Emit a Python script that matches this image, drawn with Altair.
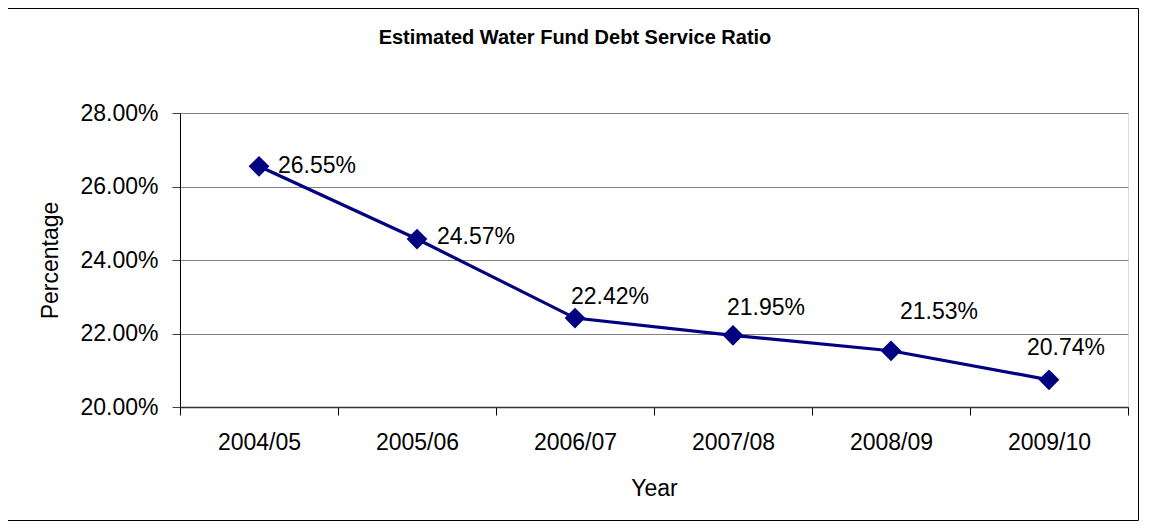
import altair as alt
import pandas as pd

years = ["2004/05", "2005/06", "2006/07", "2007/08", "2008/09", "2009/10"]
ratios = [0.2655, 0.2457, 0.2242, 0.2195, 0.2153, 0.2074]
title_text = "Estimated Water Fund Debt Service Ratio"

df = pd.DataFrame({"Year": years, "Ratio": ratios})

FONT = "Liberation Sans"
NAVY = "#000080"
W, H = 948, 294

x_enc = alt.X(
    "Year:N",
    sort=years,
    scale=alt.Scale(type="band", paddingInner=0, paddingOuter=0),
    axis=alt.Axis(
        title="Year",
        labelAngle=0,
        tickBand="extent",
        tickSize=8,
        tickColor="#000000",
        domainColor="#333333",
        domainWidth=1.5,
        labelPadding=16,
        labelFontSize=23,
        labelColor="#000000",
        titleFontSize=23,
        titleFontWeight="normal",
        titleColor="#000000",
        titleX=474,
        titleY=81,
        titleAlign="center",
        titleBaseline="middle",
        grid=False,
    ),
)
y_enc = alt.Y(
    "Ratio:Q",
    scale=alt.Scale(domain=[0.20, 0.28], nice=False, zero=False),
    axis=alt.Axis(
        title="Percentage",
        format=".2%",
        values=[0.20, 0.22, 0.24, 0.26, 0.28],
        tickSize=8,
        tickColor="#404040",
        domainColor="#000000",
        domainWidth=1,
        labelPadding=14,
        labelFontSize=23,
        labelColor="#000000",
        titleFontSize=23,
        titleFontWeight="normal",
        titleColor="#000000",
        titleX=-130,
        titleY=147,
        titleAngle=270,
        titleAlign="center",
        titleBaseline="middle",
        grid=True,
        gridColor="#808080",
        gridWidth=1,
    ),
)

base = alt.Chart(df)

line = base.mark_line(color=NAVY, strokeWidth=3.2).encode(x=x_enc, y=y_enc)
pts = base.mark_point(shape="diamond", filled=True, color=NAVY, size=430, opacity=1).encode(
    x=alt.X("Year:N", sort=years), y="Ratio:Q"
)


def label_layer(year, dx, dy):
    return (
        base.transform_filter(alt.datum.Year == year)
        .mark_text(align="left", baseline="middle", dx=dx, dy=dy, fontSize=23, font=FONT, color="#000000")
        .encode(x=alt.X("Year:N", sort=years), y="Ratio:Q", text=alt.Text("Ratio:Q", format=".2%"))
    )


labels = [
    label_layer("2004/05", 19, 0),
    label_layer("2005/06", 20, -2),
    label_layer("2006/07", -4, -21),
    label_layer("2007/08", -6, -27),
    label_layer("2008/09", 9, -39),
    label_layer("2009/10", -22, -32),
]

title = alt.Chart(pd.DataFrame({"t": [title_text]})).mark_text(
    fontSize=20, fontWeight="bold", font=FONT, color="#000000", align="center", baseline="middle"
).encode(text="t:N", x=alt.value(395), y=alt.value(-75))

border = alt.Chart(pd.DataFrame({"a": [0]})).mark_rect(
    fill=None, stroke="#000000", strokeWidth=1
).encode(x=alt.value(-172.5), x2=alt.value(958.5), y=alt.value(-104.5), y2=alt.value(407.5))

chart = (
    alt.layer(border, line, pts, *labels, title)
    .properties(
        width=W,
        height=H,
        autosize=alt.AutoSizeParams(type="none"),
        padding={"left": 172, "top": 105, "right": 12, "bottom": 115},
    )
    .configure_view(stroke="#808080", strokeWidth=1)
    .configure(font=FONT, background="#ffffff")
)

chart.save("out.html", embed_options={"renderer": "svg", "actions": False})
